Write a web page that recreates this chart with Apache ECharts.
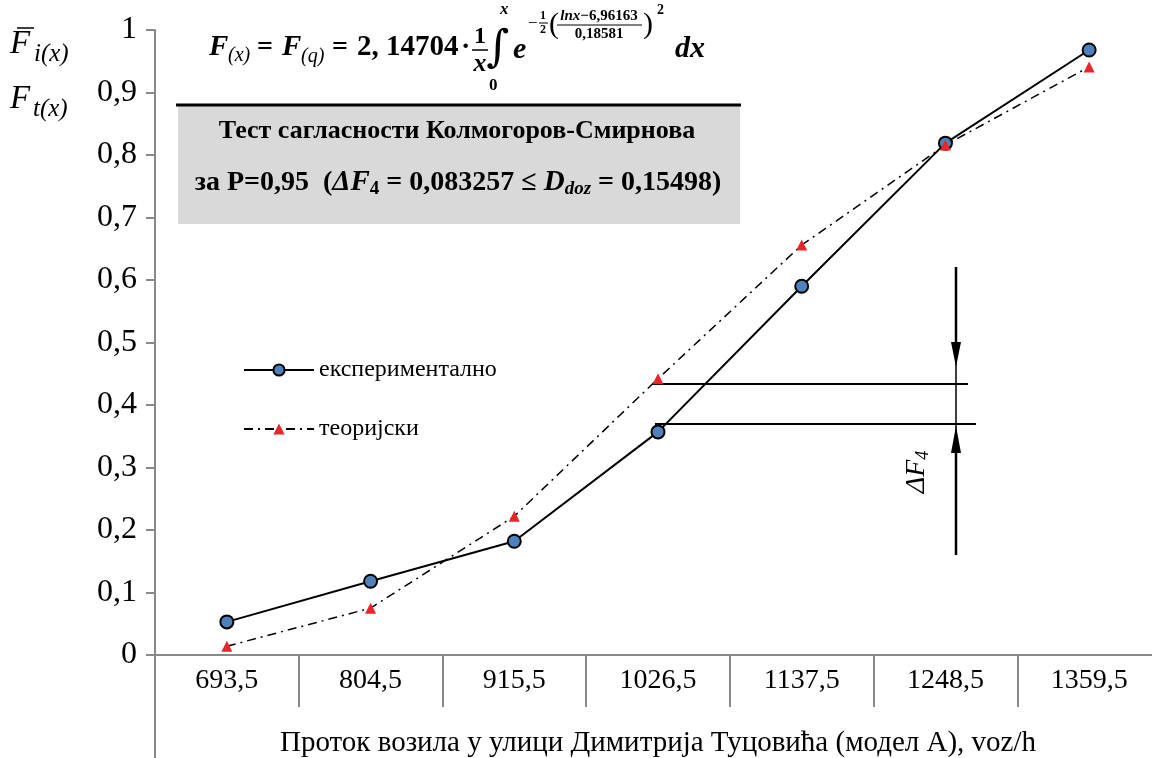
<!DOCTYPE html>
<html>
<head>
<meta charset="utf-8">
<script src="https://cdn.jsdelivr.net/npm/echarts@6/dist/echarts.min.js"></script>
<style>
html,body{margin:0;padding:0;background:#fff;}
#chart{width:1152px;height:758px;}
</style>
</head>
<body>
<div id="chart"></div>
<script>
const categories = ['693,5','804,5','915,5','1026,5','1137,5','1248,5','1359,5'];
const experimental = [0.053, 0.118, 0.182, 0.357, 0.590, 0.819, 0.968];
const theoretical = [0.014, 0.075, 0.222, 0.442, 0.656, 0.816, 0.941];
const seriesNames = ['експериментално', 'теоријски'];
const xTitle = 'Проток возила у улици Димитрија Туцовића (модел А), voz/h';

const SERIF = '"Liberation Serif", "Times New Roman", serif';
const GRAY = '#898989';

const chart = echarts.init(document.getElementById('chart'), null, {renderer: 'canvas'});

function t(x, y, text, size, opts) {
  opts = opts || {};
  return {type:'text', x:x, y:y, rotation:opts.rotation || 0, style:Object.assign({
    text:text, fontFamily:SERIF, fontSize:size, fill:'#000',
    align:opts.align || 'left', verticalAlign:'middle'
  }, opts.style || {})};
}
const BI = {fontStyle:'italic', fontWeight:'bold'};
const B = {fontWeight:'bold'};
const I = {fontStyle:'italic'};

const graphics = [
  // y axis extension below the x axis
  {type:'line', shape:{x1:155,y1:655,x2:155,y2:758}, style:{stroke:GRAY, lineWidth:2}, z:1},
  // y-axis titles
  t(10, 44, 'F', 33, {style:I}),
  {type:'line', shape:{x1:17,y1:28,x2:34,y2:28}, style:{stroke:'#000', lineWidth:1.5}},
  t(34, 54, 'i(x)', 25, {style:I}),
  t(10, 99, 'F', 33, {style:I}),
  t(33, 109, 't(x)', 25, {style:I}),
  // formula
  t(209, 48, 'F', 29, {style:BI}),
  t(228, 56, '(x)', 20, {style:I}),
  t(257, 48, '=', 28, {style:B}),
  t(282, 48, 'F', 29, {style:BI}),
  t(301, 57, '(q)', 20, {style:I}),
  t(332, 48, '=', 28, {style:B}),
  t(357, 48, '2, 14704', 29, {style:B}),
  t(461, 48, '·', 28, {style:B}),
  t(480, 37, '1', 24, {align:'center', style:B}),
  {type:'line', shape:{x1:472,y1:50,x2:488,y2:50}, style:{stroke:'#000', lineWidth:1.5}},
  t(480, 64, 'x', 26, {align:'center', style:BI}),
  t(498, 50, '∫', 44, {align:'center', style:{fontFamily:'"DejaVu Serif", serif'}}),
  t(500, 10, 'x', 17, {style:BI}),
  t(489, 86, '0', 17, {style:B}),
  t(513, 50, 'e', 30, {style:BI}),
  t(528, 24, '−', 17, {}),
  t(543, 16, '1', 12, {align:'center', style:B}),
  {type:'line', shape:{x1:539,y1:23,x2:548,y2:23}, style:{stroke:'#000', lineWidth:1}},
  t(543, 30, '2', 12, {align:'center', style:B}),
  t(549, 25, '(', 30, {}),
  {type:'text', x:599, y:16, style:{text:'{i|lnx}{b|−6,96163}', rich:{
      i:Object.assign({fontFamily:SERIF, fontSize:15, fill:'#000'}, BI),
      b:Object.assign({fontFamily:SERIF, fontSize:15, fill:'#000'}, B)}, align:'center', verticalAlign:'middle'}},
  {type:'line', shape:{x1:557,y1:25,x2:642,y2:25}, style:{stroke:'#000', lineWidth:1}},
  t(599, 34, '0,18581', 15, {align:'center', style:B}),
  t(643, 25, ')', 30, {}),
  t(657, 10, '2', 14, {style:B}),
  t(675, 49, 'dx', 30, {style:BI}),
  // gray box
  {type:'rect', shape:{x:178,y:105,width:562,height:119}, style:{fill:'#d9d9d9'}, z:0},
  {type:'line', shape:{x1:176,y1:105,x2:741,y2:105}, style:{stroke:'#000', lineWidth:3}},
  t(457, 131, 'Тест сагласности Колмогоров-Смирнова', 26, {align:'center', style:B}),
  {type:'text', x:458, y:183, style:{
    text:'{n|за P=0,95  (}{i|ΔF}{s|4}{n| = 0,083257 ≤ }{i|D}{si|doz}{n| = 0,15498)}', rich:{
      n:{fontFamily:SERIF, fontWeight:'bold', fontSize:28, fill:'#000'},
      i:{fontFamily:SERIF, fontWeight:'bold', fontStyle:'italic', fontSize:29, fill:'#000'},
      s:{fontFamily:SERIF, fontWeight:'bold', fontSize:19, fill:'#000', padding:[12,0,0,0]},
      si:{fontFamily:SERIF, fontWeight:'bold', fontStyle:'italic', fontSize:19, fill:'#000', padding:[12,0,0,0]}
    }, align:'center', verticalAlign:'middle'}},
  // delta F4 annotation
  {type:'line', shape:{x1:652,y1:384,x2:968,y2:384}, style:{stroke:'#000', lineWidth:2}},
  {type:'line', shape:{x1:655,y1:424,x2:976,y2:424}, style:{stroke:'#000', lineWidth:2}},
  {type:'line', shape:{x1:956,y1:267,x2:956,y2:345}, style:{stroke:'#000', lineWidth:2.5}},
  {type:'line', shape:{x1:956,y1:345,x2:956,y2:452}, style:{stroke:'#000', lineWidth:1.5}},
  {type:'line', shape:{x1:956,y1:452,x2:956,y2:555}, style:{stroke:'#000', lineWidth:2.5}},
  {type:'polygon', shape:{points:[[951,342],[961,342],[956,367]]}, style:{fill:'#000'}},
  {type:'polygon', shape:{points:[[956,426],[951,453],[961,453]]}, style:{fill:'#000'}},
  {type:'text', x:917, y:472, rotation:Math.PI/2, style:{
    text:'{i|ΔF}{s|4}', rich:{
      i:{fontFamily:SERIF, fontStyle:'italic', fontSize:28, fill:'#000'},
      s:{fontFamily:SERIF, fontStyle:'italic', fontSize:18, fill:'#000', padding:[12,0,0,0]}
    }, align:'center', verticalAlign:'middle'}}
];

chart.setOption({
  animation:false,
  backgroundColor:'#fff',
  grid:{left:155, top:30, width:1006, height:625, containLabel:false, outerBoundsMode:'none'},
  legend:{
    orient:'vertical', left:243, top:358, padding:0, itemWidth:70, itemHeight:14, itemGap:35,
    data:seriesNames,
    textStyle:{fontFamily:SERIF, fontSize:24, color:'#000'}
  },
  xAxis:{
    type:'category', data:categories, boundaryGap:true,
    axisLine:{show:true, lineStyle:{color:GRAY, width:2}},
    axisTick:{show:true, interval:0, length:52, lineStyle:{color:GRAY, width:2}},
    axisLabel:{interval:0, fontFamily:SERIF, fontSize:28, color:'#000', margin:12},
    splitLine:{show:false},
    name:xTitle, nameLocation:'middle', nameGap:74,
    nameTextStyle:{fontFamily:SERIF, fontSize:29, color:'#000'}
  },
  yAxis:{
    type:'value', min:0, max:1, interval:0.1,
    axisLine:{show:true, lineStyle:{color:GRAY, width:2}},
    axisTick:{show:true, length:9, lineStyle:{color:GRAY, width:2}},
    axisLabel:{fontFamily:SERIF, fontSize:32, color:'#000', margin:18,
      formatter:function(v){ return (v===0||v===1) ? String(v) : v.toFixed(1).replace('.', ','); }},
    splitLine:{show:false}
  },
  series:[
    {name:seriesNames[0], type:'line', data:experimental, symbol:'circle', symbolSize:13,
     itemStyle:{color:'#4f81bd', borderColor:'#000', borderWidth:2},
     lineStyle:{color:'#000', width:2}, z:3},
    {name:seriesNames[1], type:'line', data:theoretical, symbol:'triangle', symbolSize:11,
     itemStyle:{color:'#e8262a', borderWidth:0},
     lineStyle:{color:'#000', width:1.5, type:[9,5,2,5]}, z:4}
  ],
  graphic:graphics
});
</script>
</body>
</html>
